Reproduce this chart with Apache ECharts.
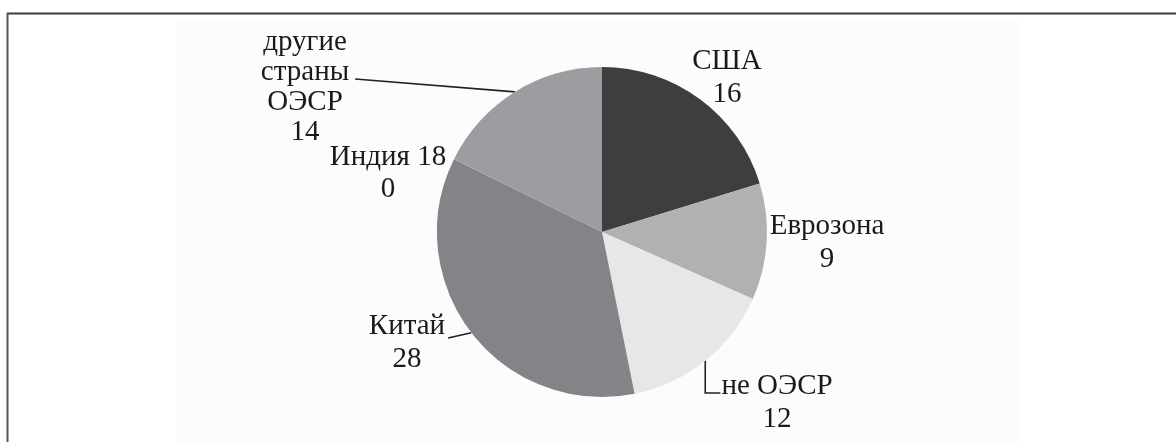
<!DOCTYPE html>
<html><head><meta charset="utf-8">
<script src="https://cdn.jsdelivr.net/npm/echarts@6/dist/echarts.min.js"></script>
<style>html,body{margin:0;padding:0;background:#fff}#c{width:1176px;height:442px}</style>
</head><body><div id="c"></div>
<script>
// ---- data ----
const categories = ['США', 'Еврозона', 'не ОЭСР', 'Китай', 'Индия 18', 'другие\nстраны\nОЭСР'];
const values = [16, 9, 12, 28, 0, 14];
const colors = ['#3e3e3e', '#b0b1b3', '#e6e7e7', '#838488', '#838488', '#9c9da0'];

// ---- layout (label block centres as offsets from the pie centre) ----
const PIE = { cx: 602, cy: 232, r: 165 };
const labelPlace = [
  { dx: 125, dy: -154, lh: 33, line: null },
  { dx: 225, dy: 11, lh: 33, line: null },
  { dx: 175, dy: 171, lh: 33, line: 'elbow' },
  { dx: -195, dy: 111, lh: 33, line: 'right', ly: -5, gap: 3 },
  { dx: -214, dy: -59, lh: 32, line: null },
  { dx: -297, dy: -145, lh: 30, line: 'right', ly: -8, gap: 6 }
];

const chart = echarts.init(document.getElementById('c'), null, { renderer: 'canvas' });

const data = categories.map((name, i) => ({
  name: name,
  value: values[i],
  itemStyle: { color: colors[i] },
  label: { lineHeight: labelPlace[i].lh },
  labelLine: { show: !!labelPlace[i].line }
}));

chart.setOption({
  animation: false,
  backgroundColor: '#ffffff',
  graphic: [
    { type: 'rect', silent: true, z: -10, shape: { x: 176, y: 20, width: 844, height: 430 }, style: { fill: '#fcfcfc' } },
    { type: 'line', silent: true, shape: { x1: 7, y1: 13.5, x2: 1176, y2: 13.5 }, style: { stroke: '#3a3a3a', lineWidth: 2 } },
    { type: 'line', silent: true, shape: { x1: 7.5, y1: 13, x2: 7.5, y2: 442 }, style: { stroke: '#555', lineWidth: 2 } }
  ],
  series: [{
    type: 'pie',
    center: [PIE.cx, PIE.cy],
    radius: PIE.r,
    startAngle: 90,
    clockwise: true,
    avoidLabelOverlap: false,
    minShowLabelAngle: 0,
    itemStyle: { borderWidth: 0 },
    emphasis: { disabled: true },
    label: {
      show: true,
      position: 'outside',
      formatter: '{b}\n{c}',
      fontFamily: 'Liberation Serif',
      fontSize: 29,
      color: '#1a1a1a'
    },
    labelLine: {
      length: 5, length2: 5,
      lineStyle: { color: '#222', width: 1.6 }
    },
    labelLayout: function (p) {
      const pl = labelPlace[p.dataIndex];
      const x = PIE.cx + pl.dx, y = PIE.cy + pl.dy;
      const out = { x: x, y: y, align: 'center', verticalAlign: 'middle' };
      const w = p.labelRect ? p.labelRect.width : 0;
      const a = p.labelLinePoints && p.labelLinePoints[0];
      if (pl.line && a) {
        if (pl.line === 'right') {
          out.labelLinePoints = [[a[0], a[1]], [x + w / 2 + pl.gap, y + pl.ly], [x + w / 2 + pl.gap, y + pl.ly]];
        } else if (pl.line === 'elbow') {
          const yy = y - 10;
          out.labelLinePoints = [[a[0], a[1]], [a[0], yy], [x - w / 2 - 1, yy]];
        }
      }
      return out;
    },
    data: data
  }]
});
</script>
</body></html>
